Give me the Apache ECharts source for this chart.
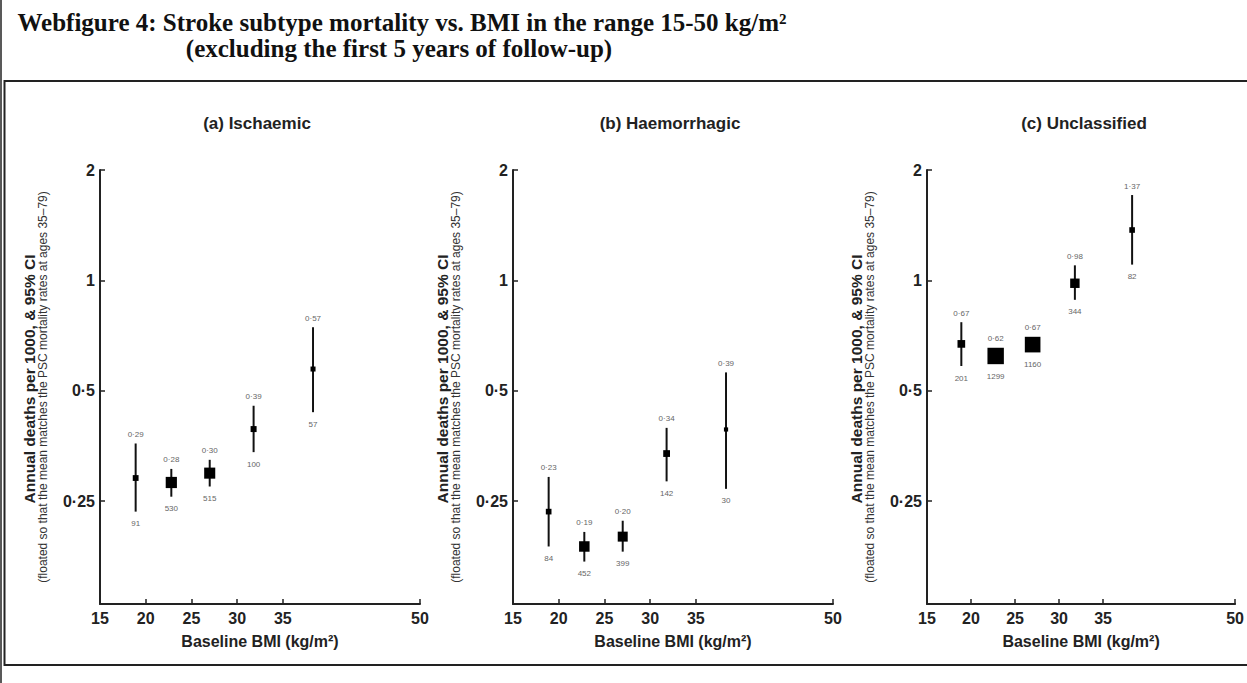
<!DOCTYPE html>
<html>
<head>
<meta charset="utf-8">
<script src="https://cdn.jsdelivr.net/npm/echarts@6/dist/echarts.min.js"></script>
<style>
html,body{margin:0;padding:0;background:#fff;}
#chart{width:1247px;height:683px;}
</style>
</head>
<body>
<div id="chart"></div>
<script>
// ---- data ----
const bmiGroups = [18.9, 22.8, 27.0, 31.8, 38.3];

const ischEst   = [0.289, 0.281, 0.298, 0.393, 0.573];
const ischLo    = [0.234, 0.257, 0.274, 0.340, 0.437];
const ischHi    = [0.359, 0.306, 0.324, 0.455, 0.745];
const ischDeaths= [91, 530, 515, 100, 57];

const haemEst   = [0.234, 0.188, 0.200, 0.337, 0.392];
const haemLo    = [0.188, 0.171, 0.182, 0.283, 0.270];
const haemHi    = [0.291, 0.206, 0.221, 0.396, 0.561];
const haemDeaths= [84, 452, 399, 142, 30];

const unclEst   = [0.671, 0.622, 0.668, 0.982, 1.372];
const unclLo    = [0.584, 0.600, 0.645, 0.885, 1.104];
const unclHi    = [0.769, 0.645, 0.695, 1.099, 1.709];
const unclDeaths= [201, 1299, 1160, 344, 82];

const xTickLabels = [15, 20, 25, 30, 35, 50];
const yTickLabels = [0.25, 0.5, 1, 2];

const panelTitles = ['(a) Ischaemic', '(b) Haemorrhagic', '(c) Unclassified'];
const mainTitle1 = 'Webfigure 4: Stroke subtype mortality vs. BMI in the range 15-50 kg/m²';
const mainTitle2 = '(excluding the first 5 years of follow-up)';
const yName1 = 'Annual deaths per 1000, & 95% CI';
const yName2 = '(floated so that the mean matches the PSC mortality rates at ages 35–79)';
const xName = 'Baseline BMI (kg/m²)';

// ---- build ----
const panels = [
  {est: ischEst, lo: ischLo, hi: ischHi, deaths: ischDeaths},
  {est: haemEst, lo: haemLo, hi: haemHi, deaths: haemDeaths},
  {est: unclEst, lo: unclLo, hi: unclHi, deaths: unclDeaths}
];
const gridLefts = [100, 513, 927];
const SANS = '"Liberation Sans", Arial, sans-serif';
const SERIF = '"Liberation Serif", "Times New Roman", serif';
const fmtDot = v => String(v).replace('.', '·');

const grids = [], xAxes = [], yAxes = [], series = [];
panels.forEach((p, i) => {
  grids.push({left: gridLefts[i], top: 170, width: 320, height: 434});
  xAxes.push({
    type: 'value', gridIndex: i, min: 15, max: 50,
    name: xName, nameLocation: 'middle', nameGap: 29,
    nameTextStyle: {fontFamily: SANS, fontWeight: 'bold', fontSize: 16, color: '#222'},
    axisLine: {show: true, lineStyle: {color: '#222', width: 2}},
    axisTick: {show: true, inside: true, length: 5, lineStyle: {color: '#222', width: 1.5},
               customValues: [20, 25, 30, 35, 50]},
    axisLabel: {customValues: xTickLabels, margin: 6, fontFamily: SANS, fontWeight: 'bold',
                fontSize: 16, color: '#222'},
    splitLine: {show: false}
  });
  yAxes.push({
    type: 'log', logBase: 2, gridIndex: i, min: 0.131, max: 2,
    name: '{a|' + yName1 + '}\n{b|' + yName2 + '}',
    nameLocation: 'middle', nameRotate: 90, nameGap: 51,
    nameTextStyle: {
      rich: {
        a: {fontFamily: SANS, fontWeight: 'bold', fontSize: 15.5, color: '#222', lineHeight: 16,
            padding: [0, 0, 0, 16]},
        b: {fontFamily: SANS, fontSize: 12, color: '#333', lineHeight: 12}
      }
    },
    axisLine: {show: true, lineStyle: {color: '#222', width: 2}},
    axisTick: {show: true, inside: true, length: 5, lineStyle: {color: '#222', width: 1.5},
               customValues: yTickLabels},
    axisLabel: {customValues: yTickLabels, margin: 5, fontFamily: SANS, fontWeight: 'bold',
                fontSize: 16, color: '#222', formatter: v => fmtDot(v)},
    splitLine: {show: false}
  });
  const data = bmiGroups.map((x, k) => [x, p.est[k], p.lo[k], p.hi[k], p.deaths[k]]);
  series.push({
    type: 'custom', xAxisIndex: i, yAxisIndex: i,
    data: data,
    encode: {x: 0, y: [1, 2, 3]},
    renderItem: function (params, api) {
      const x = api.value(0), est = api.value(1), lo = api.value(2), hi = api.value(3), d = api.value(4);
      const pE = api.coord([x, est]);
      const pL = api.coord([x, lo]);
      const pH = api.coord([x, hi]);
      const s = 0.4 * Math.sqrt(d) + 2;
      const topY = Math.min(pH[1], pE[1] - s / 2);
      const botY = Math.max(pL[1], pE[1] + s / 2);
      return {
        type: 'group',
        children: [
          {type: 'line', shape: {x1: pE[0], y1: pH[1], x2: pE[0], y2: pL[1]},
           style: {stroke: '#111', lineWidth: 2}},
          {type: 'rect', shape: {x: pE[0] - s / 2, y: pE[1] - s / 2, width: s, height: s},
           style: {fill: '#000'}},
          {type: 'text', x: pE[0], y: topY - 9,
           style: {text: fmtDot(est.toFixed(2)), fill: '#666', fontSize: 8, fontFamily: SANS,
                   align: 'center', verticalAlign: 'middle'}},
          {type: 'text', x: pE[0], y: botY + 12,
           style: {text: String(d), fill: '#666', fontSize: 8, fontFamily: SANS,
                   align: 'center', verticalAlign: 'middle'}}
        ]
      };
    }
  });
});

const graphics = [
  {type: 'line', shape: {x1: 1, y1: 0, x2: 1, y2: 683}, style: {stroke: '#222', lineWidth: 1.5}},
  {type: 'rect', shape: {x: 4.5, y: 81, width: 1260, height: 584},
   style: {fill: 'none', stroke: '#222', lineWidth: 2}},
  {type: 'text', x: 402, y: 22,
   style: {text: mainTitle1, font: 'bold 25px ' + SERIF, fill: '#111', align: 'center', verticalAlign: 'middle'}},
  {type: 'text', x: 399, y: 48,
   style: {text: mainTitle2, font: 'bold 25px ' + SERIF, fill: '#111', align: 'center', verticalAlign: 'middle'}}
];
panelTitles.forEach((t, i) => {
  graphics.push({type: 'text', x: gridLefts[i] + 157, y: 123,
    style: {text: t, font: 'bold 17px ' + SANS, fill: '#222', align: 'center', verticalAlign: 'middle'}});
});

const chart = echarts.init(document.getElementById('chart'), null, {renderer: 'svg'});
chart.setOption({
  animation: false,
  backgroundColor: '#fff',
  grid: grids,
  xAxis: xAxes,
  yAxis: yAxes,
  series: series,
  graphic: graphics
});
</script>
</body>
</html>
